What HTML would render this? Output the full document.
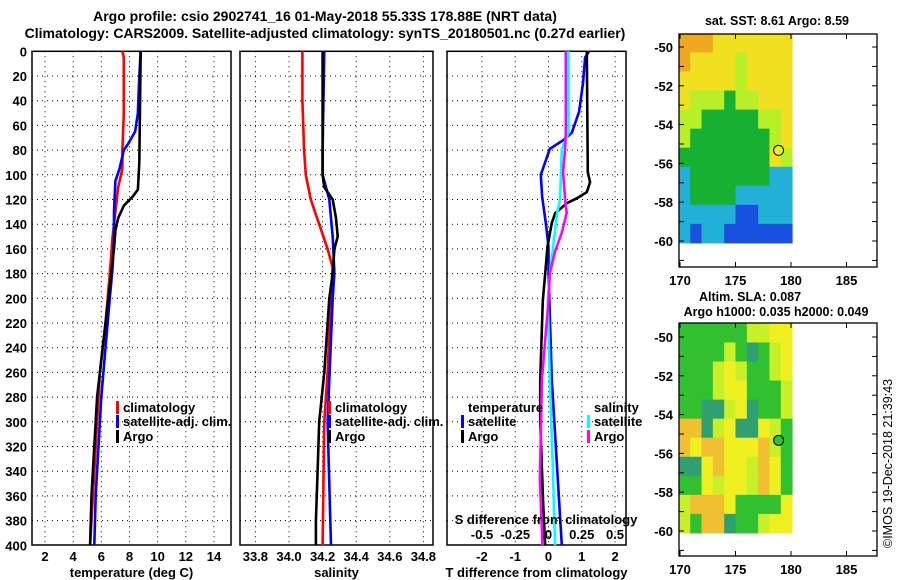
<!DOCTYPE html>
<html><head><meta charset="utf-8"><style>
body{margin:0;background:#fff}
svg{display:block;font-family:"Liberation Sans",Arial,sans-serif;font-weight:bold}
</style></head><body>
<svg id="chart" width="900" height="580" viewBox="0 0 900 580" xmlns="http://www.w3.org/2000/svg">
<text x="325" y="21" font-size="14" text-anchor="middle">Argo profile: csio 2902741_16 01-May-2018 55.33S 178.88E (NRT data)</text>
<text x="325" y="38" font-size="14" text-anchor="middle">Climatology: CARS2009. Satellite-adjusted climatology: synTS_20180501.nc (0.27d earlier)</text>
<g id="g"></g>
</svg>
<script>
// ---- profile data (depth m) ----
const climDepth=[0,5,50,80,95,110,130,150,180,220,260,300,340,400];
const climTemp=[7.5,7.6,7.6,7.5,7.5,7.2,7.0,6.8,6.6,6.3,5.9,5.7,5.5,5.2];
const satDepth=[0,20,50,65,75,80,95,105,130,150,175,200,240,280,320,360,400];
const satTemp=[8.8,8.7,8.6,8.4,7.9,7.6,7.3,7.0,6.9,6.9,6.8,6.6,6.3,6.0,5.8,5.6,5.5];
const argoDepth=[0,90,112,118,125,135,145,160,200,240,280,320,360,400];
const argoTemp=[8.8,8.7,8.6,8.2,7.6,7.2,7.0,6.9,6.5,6.1,5.7,5.5,5.3,5.2];
const climSDepth=[0,40,80,100,120,140,160,175,200,260,300,400];
const climSal=[34.08,34.08,34.09,34.1,34.13,34.18,34.23,34.26,34.25,34.23,34.21,34.2];
const satSDepth=[0,80,100,110,120,150,180,200,300,400];
const satSal=[34.21,34.2,34.2,34.22,34.24,34.26,34.27,34.26,34.23,34.25];
const argoSDepth=[0,100,110,120,135,150,160,180,200,260,300,340,380,400];
const argoSal=[34.2,34.2,34.21,34.26,34.28,34.29,34.27,34.26,34.24,34.21,34.18,34.17,34.16,34.16];
const dTDepth=[0,5,25,49,66,72,79,100,118,139,158,178,266,400];
const dTsat=[1.22,1.1,1.04,0.92,0.7,0.44,0.04,-0.23,-0.19,-0.08,0,0,0.1,0.4];
const dTaDepth=[0,98,106,114,119,123,131,139,158,180,202,266,298,367,400];
const dTargo=[1.15,1.18,1.25,1.15,0.85,0.55,0.2,0.1,-0.03,-0.1,-0.17,-0.25,-0.25,-0.16,-0.1];
const dSDepth=[0,66,79,120,131,158,180,202,266,347,400];
const dSsat=[0.15,0.15,0.1,0.087,0.065,0.035,0.01,-0.005,0.01,0.035,0.05];
const dSaDepth=[0,66,79,98,120,131,147,162,180,202,266,347,400];
const dSargo=[0.13,0.13,0.125,0.11,0.125,0.137,0.1,0.05,0.01,0,-0.05,-0.065,-0.045];
const depthTicks=[0,20,40,60,80,100,120,140,160,180,200,220,240,260,280,300,320,340,360,380,400];
const tTicks=[2,4,6,8,10,12,14];
const sTicks=[33.8,34,34.2,34.4,34.6,34.8];
const dtTicks=[-2,-1,0,1,2];
const dsTicks=[-0.5,-0.25,0,0.25,0.5];
// ---- map data ----
const latTicks=[-50,-52,-54,-56,-58,-60];
const lonTicks=[170,175,180,185];
const argoLon=178.88, argoLat=-55.33;
const sstGrid=["OOOYYYYYYY","OYYYYLYYYY","YYYYYLYYYY","YLLLGLLYYY","LLGGGGGLLY","LGGGGGGGLY","GGGGGGGGYL","CGGGGGGGCC","CGGGGCCCCC","CCCCCBBCCC","CBCCBBBBBB"];
const slaGrid=["GGGGGGLLYY","GGGGLGTGLY","GGGLYLGGLY","GGGLYYGGGL","GGTTLYTGGL","OOTLYTTYLG","OYOOYYYOLG","TTYOYYLOYG","GGYLYYLOYG","LOOOYGGGGY","LGOOTGGLYY"];
const sstCol={O:"#f0a820",Y:"#f0e020",L:"#b8f028",G:"#18b030",C:"#20b0d8",B:"#1850e0"};
const slaCol={G:"#30c030",L:"#c8f028",Y:"#f0f020",O:"#f0c030",T:"#30a070"};

const NS="http://www.w3.org/2000/svg";
const g=document.getElementById('g');
function el(tag,attrs,parent){const e=document.createElementNS(NS,tag);for(const k in attrs)e.setAttribute(k,attrs[k]);(parent||g).appendChild(e);return e;}
const Y0=51.3,YK=1.235,YB=545;
const yD=d=>Y0+d*YK;
const xT=t=>45+(t-2)*14.08;
const xS=s=>289+(s-34)*168;
const xDT=v=>548.5+v*33.3;
const xDS=v=>548.5+v*133;

function panel(name,x0,x1,xs,ticks,fmt,xtitle){
  const fr=el('rect',{x:x0,y:Y0,width:x1-x0,height:YB-Y0,fill:'none',stroke:'#000','stroke-width':1.5});
  
  
  depthTicks.forEach(d=>{
    if(d>0&&d<400){const l=el('line',{x1:x0,x2:x1,y1:yD(d),y2:yD(d),stroke:'#000','stroke-dasharray':'1,4'});
    
    }
  });
  ticks.forEach(t=>{
    const x=xs(t);
    const l=el('line',{x1:x,x2:x,y1:Y0,y2:YB,stroke:'#000','stroke-dasharray':'1,4'});
    
    
    const tx=el('text',{x:x,y:561,'font-size':13,'text-anchor':'middle'});tx.textContent=fmt(t);
    
    
  });
  const tt=el('text',{x:(x0+x1)/2,y:577,'font-size':13,'text-anchor':'middle'});tt.textContent=xtitle;
  
  
}
function line(name,xs,vals,depths,color,w){
  const pts=vals.map((v,i)=>xs(v).toFixed(1)+','+yD(depths[i]).toFixed(1)).join(' ');
  const p=el('polyline',{points:pts,fill:'none',stroke:color,'stroke-width':w||2.6});
  
  
}
function legend(name,x,y,color,label){
  if(color){const r=el('rect',{x:x-7,y:y-11,width:3,height:13,fill:color});
  
  }
  const t=el('text',{x:x,y:y,'font-size':13});t.textContent=label;
  
  
}
panel('temperature-panel',32,231,xT,tTicks,t=>t,'temperature (deg C)');
depthTicks.forEach(d=>{const t=el('text',{x:27,y:yD(d)+5,'font-size':13,'text-anchor':'end'});t.textContent=d;

});
line('temp-climatology-line',xT,climTemp,climDepth,'#ff0000');
line('temp-satellite-line',xT,satTemp,satDepth,'#0000ff');
line('temp-argo-line',xT,argoTemp,argoDepth,'#000000');
legend('legend-climatology',123,412,'#ff0000','climatology');
legend('legend-satellite-adj',123,426,'#0000ff','satellite-adj. clim.');
legend('legend-argo',123,441,'#000','Argo');
panel('salinity-panel',240,433,xS,sTicks,t=>t.toFixed(1),'salinity');
line('sal-climatology-line',xS,climSal,climSDepth,'#ff0000');
line('sal-satellite-line',xS,satSal,satSDepth,'#0000ff');
line('sal-argo-line',xS,argoSal,argoSDepth,'#000000');
legend('legend2-climatology',335,412,'#ff0000','climatology');
legend('legend2-satellite-adj',335,426,'#0000ff','satellite-adj. clim.');
legend('legend2-argo',335,441,'#000','Argo');
panel('difference-panel',447,626,xDT,dtTicks,t=>t,'T difference from climatology');
line('dT-satellite-line',xDT,dTsat,dTDepth,'#0000ff');
line('dT-argo-line',xDT,dTargo,dTaDepth,'#000000');
line('dS-satellite-line',xDS,dSsat,dSDepth,'#00ffff');
line('dS-argo-line',xDS,dSargo,dSaDepth,'#ff00ff');
legend('legend3-temperature',468,412,null,'temperature');
legend('legend3-t-satellite',468,426,'#0000ff','satellite');
legend('legend3-t-argo',468,441,'#000','Argo');
legend('legend3-salinity',594,412,null,'salinity');
legend('legend3-s-satellite',594,426,'#00ffff','satellite');
legend('legend3-s-argo',594,441,'#ff00ff','Argo');
{const t=el('text',{x:546,y:524,'font-size':13,'text-anchor':'middle'});t.textContent='S difference from climatology';

}
dsTicks.forEach(v=>{const t=el('text',{x:xDS(v),y:539,'font-size':13,'text-anchor':'middle'});t.textContent=v;

});

const xL=lon=>680+(lon-170)*11.1;
function drawMap(name,top,lat50y,grid,cols,titles,circFill){
  const yL=lat=>lat50y+(-50-lat)*19.4;
  const lonMin=169.9,lonMax=180.1,latMax=-49.3,latMin=-60.1;
  const nr=grid.length,nc=grid[0].length;
  const cw=(xL(lonMax)-xL(lonMin))/nc,ch=(yL(latMin)-yL(latMax))/nr;
  grid.forEach((row,i)=>{[...row].forEach((c,j)=>{
    const r=el('rect',{x:xL(lonMin)+j*cw,y:yL(latMax)+i*ch,width:cw+0.5,height:ch+0.5,fill:cols[c]});
    
    
  });});
  const fr=el('rect',{x:679,y:top,width:198,height:233,fill:'none',stroke:'#000','stroke-width':1.3});
  
  
  for(let lat=-50;lat>=-61;lat--){
    const y=yL(lat);
    el('line',{x1:679,x2:684,y1:y,y2:y,stroke:'#000'});
    el('line',{x1:872,x2:877,y1:y,y2:y,stroke:'#000'});
  }
  latTicks.forEach(lat=>{const t=el('text',{x:673,y:yL(lat)+5,'font-size':13,'text-anchor':'end'});t.textContent=lat;
  
  });
  lonTicks.forEach(lon=>{
    el('line',{x1:xL(lon),x2:xL(lon),y1:top,y2:top+5,stroke:'#000'});
    el('line',{x1:xL(lon),x2:xL(lon),y1:top+228,y2:top+233,stroke:'#000'});
    const t=el('text',{x:xL(lon),y:top+251,'font-size':13,'text-anchor':'middle'});t.textContent=lon;
    
    });
  const c=el('circle',{cx:xL(argoLon),cy:yL(argoLat),r:5,fill:circFill,stroke:'#000','stroke-width':1});
  
  
  titles.forEach(tt=>{const t=el('text',{x:tt[1],y:tt[2],'font-size':12.5,'text-anchor':'middle'});t.textContent=tt[0];
  
  });
}
drawMap('sst-map',34,47,sstGrid,sstCol,[['sat. SST: 8.61 Argo: 8.59',777,25]],'#e8f020');
drawMap('sla-map',323,337,slaGrid,slaCol,[['Altim. SLA: 0.087',750,301],['Argo h1000: 0.035 h2000: 0.049',776,316]],'#30c030');
{const t=el('text',{x:0,y:0,'font-size':12.5,'font-weight':'normal',transform:'translate(892,548) rotate(-90)'});t.textContent='©IMOS 19-Dec-2018 21:39:43';

}
</script>
</body></html>
